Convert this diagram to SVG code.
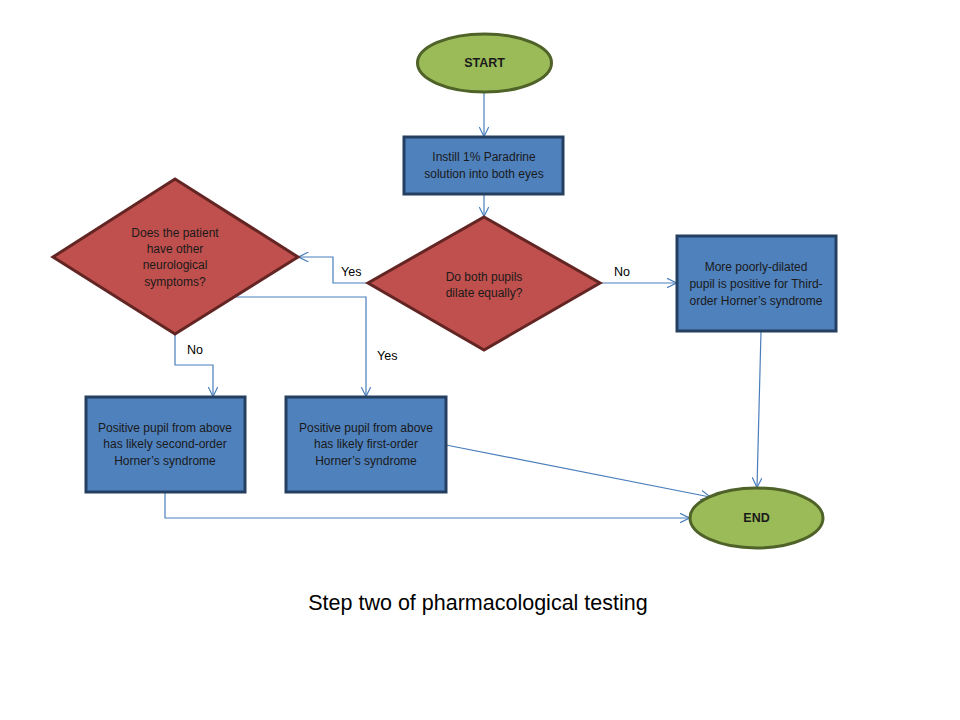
<svg xmlns="http://www.w3.org/2000/svg" width="960" height="720" viewBox="0 0 960 720">
<defs>
<style>
.term{fill:#9BBB59;stroke:#4F6228;stroke-width:3}
.proc{fill:#4F81BD;stroke:#243F60;stroke-width:3}
.dec{fill:#C0504D;stroke:#632523;stroke-width:3}
.conn{fill:none;stroke:#4A7EBB;stroke-width:1.2;marker-end:url(#arr)}
text{font-family:"Liberation Sans",Arial,sans-serif;font-size:12px;text-anchor:middle;fill:#1a1a1a}
.bold{font-weight:bold;font-size:12.5px}
.lbl{font-size:12.5px;text-anchor:start;fill:#000}
.title{font-size:21.5px;fill:#000}
</style>
<marker id="arr" viewBox="0 0 10 10" refX="9.5" refY="5" markerWidth="10" markerHeight="10" markerUnits="userSpaceOnUse" orient="auto">
<polyline points="0,0 10,5 0,10" fill="none" stroke="#4A7EBB" stroke-width="1.2"/>
</marker>
</defs>
<rect width="960" height="720" fill="#fff"/>
<g id="connectors">
<line class="conn" x1="484" y1="92" x2="484" y2="136"/>
<line class="conn" x1="484" y1="195" x2="484" y2="216"/>
<polyline class="conn" points="368,283 333,283 333,257 299,257"/>
<line class="conn" x1="600" y1="283" x2="676" y2="283"/>
<polyline class="conn" points="175,335 175,365 213,365 213,396"/>
<polyline class="conn" points="236,297 366,297 366,396"/>
<line class="conn" x1="761" y1="331" x2="757" y2="487"/>
<line class="conn" x1="446" y1="445" x2="710" y2="497"/>
<polyline class="conn" points="165,492 165,518 689,518"/>
<text class="lbl" x="341" y="276">Yes</text>
<text class="lbl" x="614" y="276">No</text>
<text class="lbl" x="187" y="354">No</text>
<text class="lbl" x="377" y="360">Yes</text>
</g>
<g id="start">
<ellipse class="term" cx="484.5" cy="63" rx="67" ry="29"/>
<text class="bold" x="484.5" y="67">START</text>
</g>
<g id="instill">
<rect class="proc" x="404" y="137" width="159" height="57"/>
<text x="484" y="161">Instill 1% Paradrine</text>
<text x="484" y="178">solution into both eyes</text>
</g>
<g id="dilate">
<polygon class="dec" points="484,217 600,283 484,350 368,283"/>
<text x="484" y="281">Do both pupils</text>
<text x="484" y="297">dilate equally?</text>
</g>
<g id="neuro">
<polygon class="dec" points="175,179 298,257 175,334 53,257"/>
<text x="175" y="237">Does the patient</text>
<text x="175" y="253">have other</text>
<text x="175" y="269">neurological</text>
<text x="175" y="286">symptoms?</text>
</g>
<g id="third">
<rect class="proc" x="677" y="236" width="159" height="95"/>
<text x="756" y="271">More poorly-dilated</text>
<text x="756" y="288">pupil is positive for Third-</text>
<text x="756" y="305">order Horner’s syndrome</text>
</g>
<g id="second">
<rect class="proc" x="86" y="397" width="159" height="95"/>
<text x="165" y="432">Positive pupil from above</text>
<text x="165" y="448">has likely second-order</text>
<text x="165" y="465">Horner’s syndrome</text>
</g>
<g id="first">
<rect class="proc" x="286" y="397" width="160" height="95"/>
<text x="366" y="432">Positive pupil from above</text>
<text x="366" y="448">has likely first-order</text>
<text x="366" y="465">Horner’s syndrome</text>
</g>
<g id="end">
<ellipse class="term" cx="756.5" cy="518" rx="66.5" ry="30"/>
<text class="bold" x="756.5" y="522">END</text>
</g>
<text class="title" x="478" y="610">Step two of pharmacological testing</text>
</svg>
